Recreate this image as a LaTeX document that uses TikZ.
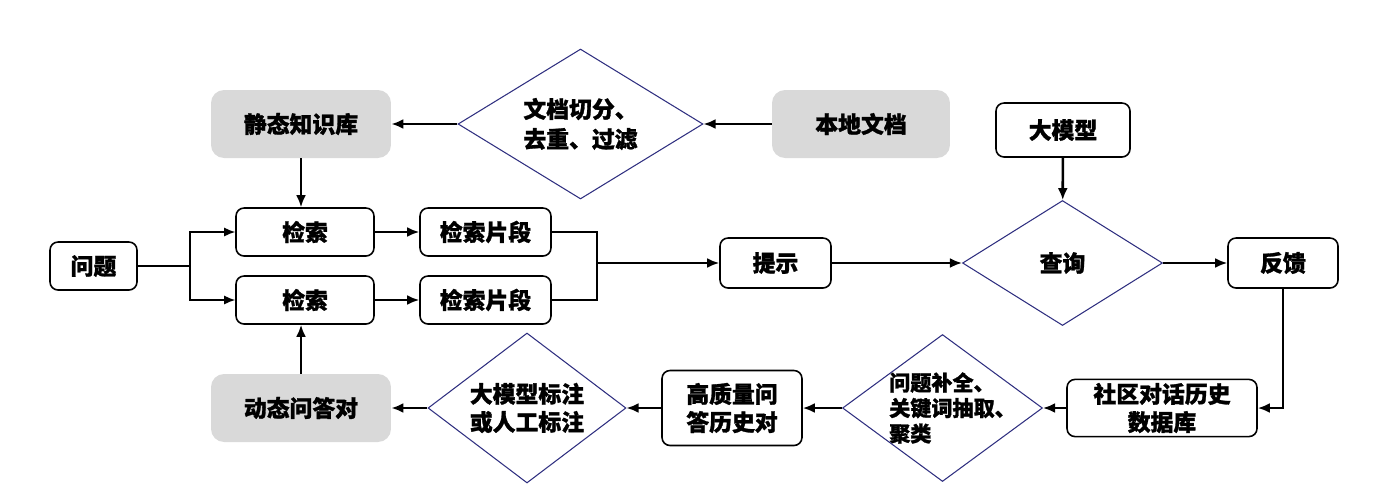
\documentclass[tikz,border=0pt]{standalone}
\usepackage{fontspec}
\setmainfont{Noto Sans CJK SC}[BoldFeatures={FakeBold=1.2}]
\usepackage{tikz}
\usetikzlibrary{arrows.meta,shapes.geometric}
\definecolor{boxgray}{HTML}{D9D9D9}
\definecolor{dianavy}{HTML}{2F2F80}

\begin{document}
\begin{tikzpicture}[
    x=0.02cm, y=-0.02cm,
    every node/.style={font=\bfseries\fontsize{13}{16}\selectfont},
    box/.style={draw, rounded corners=1.6mm, line width=0.9pt, align=center, inner sep=2pt},
    store/.style={fill=boxgray, rounded corners=2.6mm, align=center, minimum width=3.6cm, minimum height=1.36cm},
    check/.style={draw=dianavy, diamond, line width=0.6pt, inner sep=0pt},
    line/.style={-{Latex[length=2.4mm,width=2mm]}, line width=1.5pt},
    thickline/.style={line width=1.5pt},
    thinline/.style={line width=0.8pt},
    thinarrow/.style={-{Latex[length=2.2mm,width=1.8mm]}, line width=0.8pt}
  ]
    \useasboundingbox (0,0) rectangle (1400,491);

    % upper half: retrieval
    \node[box, minimum width=1.74cm, minimum height=0.96cm] (ask) at (93.5,266) {问题};
    \node[box, minimum width=2.76cm, minimum height=0.96cm] (srchA) at (305,232) {检索};
    \node[box, minimum width=2.76cm, minimum height=0.96cm] (srchB) at (305,300) {检索};
    \node[box, minimum width=2.62cm, minimum height=0.96cm] (snipA) at (485.5,232) {检索片段};
    \node[box, minimum width=2.62cm, minimum height=0.96cm] (snipB) at (485.5,300) {检索片段};
    \node[store] (static) at (301,124) {静态知识库};
    \node[check, minimum width=4.9cm, minimum height=3cm,
          label={[align=center, font=\bfseries\fontsize{13}{17}\selectfont]center:{文档切分、\\去重、过滤}}] (clean) at (580.5,124) {};
    \node[store, minimum width=3.56cm] (localdoc) at (861,124) {本地文档};
    \node[box, minimum width=2.68cm, minimum height=1.08cm] (llm) at (1063,130) {大模型};
    \node[box, minimum width=2.22cm, minimum height=1cm] (prompt) at (775.5,263) {提示};
    \node[check, minimum width=4cm, minimum height=2.5cm] (query) at (1062.5,263) {查询};
    \node[box, minimum width=2.2cm, minimum height=1cm] (feedback) at (1283,263) {反馈};

    % lower half: dialogue history
    \node[box, minimum width=3.8cm, minimum height=1.1cm] (history) at (1162,408) {社区对话历史\\数据库};
    \node[check, minimum width=4cm, minimum height=2.94cm,
          label={[align=left, xshift=0.2cm, font=\bfseries\fontsize{12}{14.5}\selectfont]center:{问题补全、\\关键词抽取、\\聚类}}] (mine) at (942.5,408) {};
    \node[box, minimum width=2.8cm, minimum height=1.5cm] (goodqa) at (732,408) {高质量问\\答历史对};
    \node[check, minimum width=3.96cm, minimum height=3cm,
          label={[align=center]center:{大模型标注\\或人工标注}}] (annot) at (527,408) {};
    \node[store] (dynamic) at (301,408) {动态问答对};

    \coordinate (fork) at (190,266);
    \coordinate (merge) at (597,263);

    \draw[thickline] (ask.east) -- (fork);
    \draw[thinarrow] (fork) |- (srchA);
    \draw[thinarrow] (fork) |- (srchB);
    \draw[line] (srchA) -- (snipA);
    \draw[line] (srchB) -- (snipB);
    \draw[thinline] (snipA) -| (merge);
    \draw[thinline] (snipB) -| (merge);
    \draw[line] (merge) -- (prompt);
    \draw[line] (prompt) -- (query);
    \draw[line] (query) -- (feedback);
    \draw[line] (llm) -- (query);
    \draw[line] (localdoc) -- (clean);
    \draw[line] (clean) -- (static);
    \draw[line] (static) -- (static |- srchA.north);
    \draw[line] (feedback) |- (history);
    \draw[line] (history) -- (mine);
    \draw[line] (mine) -- (goodqa);
    \draw[line] (goodqa) -- (annot);
    \draw[line] (annot) -- (dynamic);
    \draw[line] (dynamic) -- (dynamic |- srchB.south);
  \end{tikzpicture}
\end{document}
